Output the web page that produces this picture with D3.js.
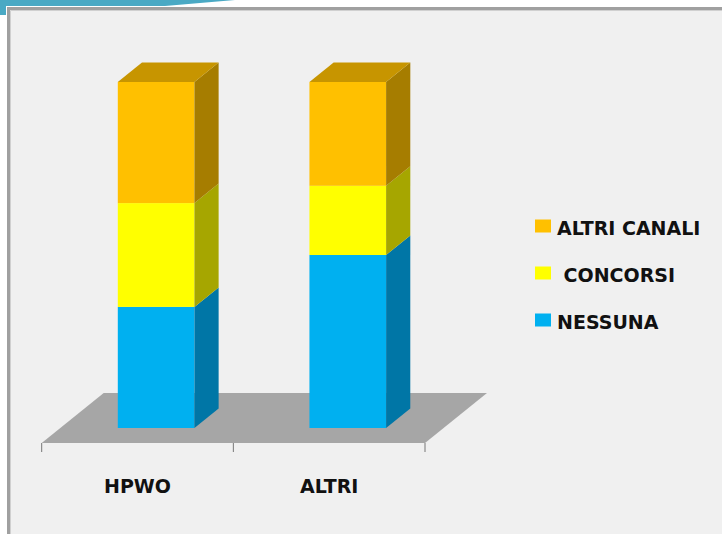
<!DOCTYPE html>
<html>
<head>
<meta charset="utf-8">
<script src="https://cdn.jsdelivr.net/npm/d3@7"></script>
<style>
  body{margin:0;background:#fff;}
  svg{display:block;}
</style>
</head>
<body>
<svg id="main"></svg>
<script>
//--------data----------
const categories = ['HPWO', 'ALTRI'];
const seriesNames = ['NESSUNA', 'CONCORSI', 'ALTRI CANALI'];
const nessuna = [35, 50];
const concorsi = [30, 20];
const altriCanali = [35, 30];
const legendLabels = ['ALTRI CANALI', ' CONCORSI', 'NESSUNA'];

const frontColors = ['#00b0f0', '#ffff00', '#ffc000'];
const sideColors = ['#0076a6', '#a6a600', '#a67d00'];
const topColor = '#c79500';

//--------code----------
let width = 722;
let height = 534;
let svg = d3.select('#main')
.attr('width', width)
.attr('height', height);

//slide decoration + frame
svg.append('path')
.attr('d', 'M0,0 L235,0 L165,6 L6,6 L6,15 L0,15 Z')
.attr('fill', '#4aa9c4');
svg.append('rect')
.attr('x', 7).attr('y', 7)
.attr('width', width).attr('height', height)
.attr('fill', '#f0f0f0');
svg.append('path')
.attr('d', `M8.5,${height} L8.5,8.5 L${width},8.5`)
.attr('fill', 'none')
.attr('stroke', '#a0a0a0')
.attr('stroke-width', 3);
svg.append('path')
.attr('d', `M10.5,${height} L10.5,10.5 L${width},10.5`)
.attr('fill', 'none')
.attr('stroke', '#d0d0d0')
.attr('stroke-width', 1);

let stacked = d3.stack().keys([0, 1, 2])(
  categories.map((c, i) => [nessuna[i], concorsi[i], altriCanali[i]])
);

// floor front edge and depth vector
let floorY = 443;
let depth = [62, -50];
let sx = d3.scaleBand().domain(categories).range([41.7, 425]).padding(0);
let sy = d3.scaleLinear().domain([0, 100]).range([0, 346]);
let barFrac = 0.4;
let d0 = 0.3, d1 = 0.69;
let off = [depth[0]*d0, depth[1]*d0];
let dx = depth[0]*(d1 - d0), dy = depth[1]*(d1 - d0);

let x0 = sx.range()[0], x1 = sx.range()[1];
svg.append('path')
.attr('d', `M${x0},${floorY} L${x1},${floorY} L${x1+depth[0]},${floorY+depth[1]} L${x0+depth[0]},${floorY+depth[1]} Z`)
.attr('fill', '#a6a6a6');

// ticks
let tickXs = [x0].concat(categories.map(c => sx(c) + sx.bandwidth()));
svg.selectAll('.tick')
.data(tickXs)
.join('line')
.attr('class', 'tick')
.attr('x1', d => d).attr('x2', d => d)
.attr('y1', floorY).attr('y2', floorY + 9)
.attr('stroke', '#777')
.attr('stroke-width', 1);

let base = floorY + off[1];
let barLeft = c => sx(c) + sx.bandwidth()*(1 - barFrac)/2 + off[0];
let barW = sx.bandwidth()*barFrac;

let segs = [];
stacked.forEach((layer, k) => {
  layer.forEach((d, i) => {
    segs.push({k, cat: categories[i], y0: base - sy(d[0]), y1: base - sy(d[1])});
  });
});

let g = svg.append('g');
g.selectAll('.front')
.data(segs)
.join('rect')
.attr('class', 'front')
.attr('x', d => barLeft(d.cat))
.attr('y', d => d.y1)
.attr('width', barW)
.attr('height', d => d.y0 - d.y1)
.attr('fill', d => frontColors[d.k]);

g.selectAll('.side')
.data(segs)
.join('path')
.attr('class', 'side')
.attr('d', d => {
  let xr = barLeft(d.cat) + barW;
  return `M${xr},${d.y0} L${xr+dx},${d.y0+dy} L${xr+dx},${d.y1+dy} L${xr},${d.y1} Z`;
})
.attr('fill', d => sideColors[d.k]);

g.selectAll('.top')
.data(segs.filter(d => d.k === 2))
.join('path')
.attr('class', 'top')
.attr('d', d => {
  let xl = barLeft(d.cat), xr = xl + barW;
  return `M${xl},${d.y1} L${xl+dx},${d.y1+dy} L${xr+dx},${d.y1+dy} L${xr},${d.y1} Z`;
})
.attr('fill', topColor);

// category labels
svg.selectAll('.catLabel')
.data(categories)
.join('text')
.attr('class', 'catLabel')
.attr('x', d => sx(d) + sx.bandwidth()/2)
.attr('y', 493)
.style('font-family', '"DejaVu Sans", sans-serif')
.style('font-weight', 'bold')
.style('font-size', '19px')
.style('text-anchor', 'middle')
.style('fill', '#111')
.text(d => d);

// legend
let legendY = [226, 273, 320];
let legend = svg.selectAll('.legend')
.data(legendLabels)
.join('g')
.attr('class', 'legend')
.attr('transform', (d, i) => `translate(535,${legendY[i]})`);
legend.append('rect')
.attr('x', 0).attr('y', -6.5)
.attr('width', 16).attr('height', 13)
.attr('fill', (d, i) => frontColors[2 - i]);
legend.append('text')
.attr('x', 22)
.attr('y', 8.5)
.attr('xml:space', 'preserve')
.style('white-space', 'pre')
.style('font-family', '"DejaVu Sans", sans-serif')
.style('font-weight', 'bold')
.style('font-size', '19px')
.style('fill', '#111')
.text(d => d);
</script>
</body>
</html>
